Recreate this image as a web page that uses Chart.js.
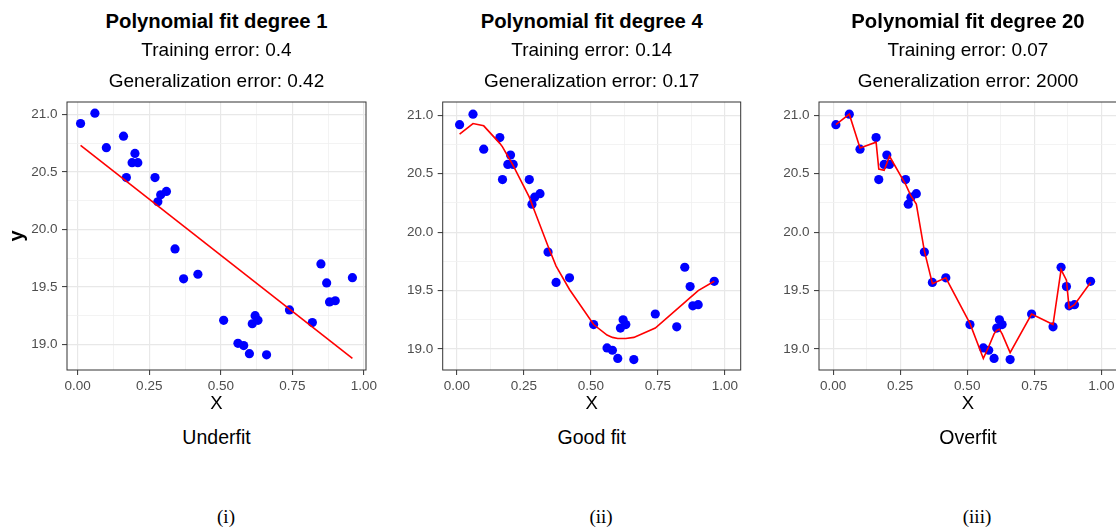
<!DOCTYPE html>
<html>
<head>
<meta charset="utf-8">
<script src="https://cdn.jsdelivr.net/npm/chart.js@4.4.1/dist/chart.umd.min.js"></script>
<style>
  html, body { margin: 0; padding: 0; background: #fff; overflow: hidden; }
  body { width: 1116px; height: 528px; position: relative; font-family: "Liberation Sans", Arial, sans-serif; }
  canvas { position: absolute; }
  .txt { position: absolute; width: 400px; text-align: center; white-space: nowrap; color: #000; line-height: 24px; }
  .title { font-weight: bold; font-size: 20.3px; }
  .sub { font-size: 19px; }
  .fit { font-size: 19.5px; }
  .cap { font-family: "Liberation Serif", "DejaVu Serif", serif; font-size: 19px; }
</style>
</head>
<body>
<script>
// data
var xData = [0.01, 0.06, 0.10, 0.16, 0.17, 0.19, 0.20, 0.21, 0.27, 0.28, 0.29, 0.31, 0.34, 0.37, 0.42,
             0.51, 0.56, 0.58, 0.60, 0.61, 0.62, 0.63, 0.66, 0.74, 0.82, 0.85, 0.87, 0.88, 0.90, 0.96];
var yData = [20.92, 21.01, 20.71, 20.81, 20.45, 20.58, 20.66, 20.58, 20.45, 20.24, 20.30, 20.33, 19.83, 19.57, 19.61,
             19.21, 19.01, 18.99, 18.92, 19.18, 19.25, 19.21, 18.91, 19.30, 19.19, 19.70, 19.535, 19.37, 19.38, 19.58];

// fitted curves
var fit1X = [0.01, 0.96];
var fit1Y = [20.73, 18.88];
var fit4Y = [20.84, 20.93, 20.91, 20.76, 20.73, 20.65, 20.61, 20.57, 20.30, 20.24, 20.18, 20.06, 19.88, 19.71, 19.51,
             19.21, 19.12, 19.10, 19.09, 19.09, 19.09, 19.09, 19.10, 19.18, 19.34, 19.40, 19.44, 19.46, 19.50, 19.58];
var fit20Y = [20.92, 21.01, 20.72, 20.77, 20.54, 20.53, 20.59, 20.65, 20.41, 20.36, 20.31, 20.24, 19.84, 19.56, 19.61,
              19.22, 18.92, 19.02, 19.13, 19.16, 19.17, 19.13, 18.97, 19.30, 19.21, 19.68, 19.59, 19.35, 19.38, 19.57];

var xTickValues = [0, 0.25, 0.5, 0.75, 1];
var xTickLabels = ['0.00', '0.25', '0.50', '0.75', '1.00'];
var xMinorTicks = [0.125, 0.375, 0.625, 0.875];
var yTickValues = [19, 19.5, 20, 20.5, 21];
var yTickLabels = ['19.0', '19.5', '20.0', '20.5', '21.0'];
var yMinorTicks = [19.25, 19.75, 20.25, 20.75];

var titles = ['Polynomial fit degree 1', 'Polynomial fit degree 4', 'Polynomial fit degree 20'];
var trainErrors = ['0.4', '0.14', '0.07'];
var genErrors = ['0.42', '0.17', '2000'];
var fitNames = ['Underfit', 'Good fit', 'Overfit'];
var captions = ['(i)', '(ii)', '(iii)'];

var FONT = '"Liberation Sans", Arial, sans-serif';

// where each panel sits
var panels = [
  { left: 0,   width: 386, yWidth: 67,   plotRight: 366,    xMin: -0.0375, xMax: 1.0075, yMin: 18.778, yMax: 21.107, yTitle: true,  fitX: fit1X, fitY: fit1Y,  capX: 226 },
  { left: 380, width: 381, yWidth: 62.7, plotRight: 740.7,  xMin: -0.053,  xMax: 1.0586, yMin: 18.821, yMax: 21.114, yTitle: false, fitX: xData, fitY: fit4Y,  capX: 601 },
  { left: 760, width: 377, yWidth: 59,   plotRight: 1117,   xMin: -0.053,  xMax: 1.0586, yMin: 18.821, yMax: 21.114, yTitle: false, fitX: xData, fitY: fit20Y, capX: 977 }
];

var frame = {
  id: 'frame',
  afterDraw: function (chart) {
    var a = chart.chartArea, ctx = chart.ctx;
    ctx.save();
    ctx.strokeStyle = '#333333';
    ctx.lineWidth = 1;
    ctx.strokeRect(a.left, a.top, a.right - a.left, a.bottom - a.top);
    ctx.restore();
  }
};

function addText(cls, text, cx, cy) {
  var d = document.createElement('div');
  d.className = 'txt ' + cls;
  d.textContent = text;
  d.style.left = (cx - 200) + 'px';
  d.style.top = (cy - 12) + 'px';
  document.body.appendChild(d);
}

function makeTicks(major, minor) {
  return major.concat(minor).sort(function (a, b) { return a - b; }).map(function (v) { return { value: v }; });
}

panels.forEach(function (p, i) {
  var canvas = document.createElement('canvas');
  canvas.width = p.width;
  canvas.height = 355;
  canvas.style.left = p.left + 'px';
  canvas.style.top = '60px';
  document.body.appendChild(canvas);

  var pts = xData.map(function (x, k) { return { x: x, y: yData[k] }; });
  var line = p.fitX.map(function (x, k) { return { x: x, y: p.fitY[k] }; });

  new Chart(canvas.getContext('2d'), {
    type: 'scatter',
    data: {
      datasets: [
        { type: 'line', data: line, borderColor: '#ff0000', borderWidth: 1.6, pointRadius: 0, fill: false, tension: 0, order: 0 },
        { data: pts, pointBackgroundColor: '#0000ff', pointBorderWidth: 0, pointRadius: 4.6, order: 1 }
      ]
    },
    options: {
      responsive: false,
      animation: false,
      events: [],
      layout: { padding: { top: 42, right: p.width - (p.plotRight - p.left), bottom: 0, left: 0 } },
      plugins: { legend: { display: false }, tooltip: { enabled: false } },
      scales: {
        x: {
          type: 'linear', min: p.xMin, max: p.xMax,
          afterBuildTicks: function (s) { s.ticks = makeTicks(xTickValues, xMinorTicks); },
          afterFit: function (s) { s.height = 45; },
          ticks: {
            autoSkip: false, maxRotation: 0, padding: 3, color: '#4d4d4d',
            font: { family: FONT, size: 13.5 },
            callback: function (v) { var k = xTickValues.indexOf(v); return k >= 0 ? xTickLabels[k] : ''; }
          },
          grid: {
            color: function (c) { return xTickValues.indexOf(c.tick.value) >= 0 ? '#e8e8e8' : '#f0f0f0'; },
            lineWidth: function (c) { return xTickValues.indexOf(c.tick.value) >= 0 ? 1.2 : 0.8; },
            tickColor: function (c) { return xTickValues.indexOf(c.tick.value) >= 0 ? '#333333' : 'rgba(0,0,0,0)'; },
            tickLength: 5, tickWidth: 1
          },
          border: { display: false },
          title: { display: true, text: 'X', color: '#000', font: { family: FONT, size: 18.5 }, padding: { top: 0, bottom: 0 } }
        },
        y: {
          type: 'linear', min: p.yMin, max: p.yMax,
          afterBuildTicks: function (s) { s.ticks = makeTicks(yTickValues, yMinorTicks); },
          afterFit: function (s) { s.width = p.yWidth; },
          ticks: {
            autoSkip: false, padding: 4.5, color: '#4d4d4d',
            font: { family: FONT, size: 13.5 },
            callback: function (v) { var k = yTickValues.indexOf(v); return k >= 0 ? yTickLabels[k] : ''; }
          },
          grid: {
            color: function (c) { return yTickValues.indexOf(c.tick.value) >= 0 ? '#e8e8e8' : '#f0f0f0'; },
            lineWidth: function (c) { return yTickValues.indexOf(c.tick.value) >= 0 ? 1.2 : 0.8; },
            tickColor: function (c) { return yTickValues.indexOf(c.tick.value) >= 0 ? '#333333' : 'rgba(0,0,0,0)'; },
            tickLength: 5, tickWidth: 1
          },
          border: { display: false },
          title: { display: p.yTitle, text: 'y', color: '#000', font: { family: FONT, size: 20, weight: 'bold' }, padding: { top: 5, bottom: 0 } }
        }
      }
    },
    plugins: [frame]
  });

  var cx = (p.left + p.yWidth + p.plotRight) / 2;
  addText('title', titles[i], cx, 21);
  addText('sub', 'Training error: ' + trainErrors[i], cx, 50);
  addText('sub', 'Generalization error: ' + genErrors[i], cx, 81);
  addText('fit', fitNames[i], cx, 437);
  addText('cap', captions[i], p.capX, 517);
});
</script>
</body>
</html>
